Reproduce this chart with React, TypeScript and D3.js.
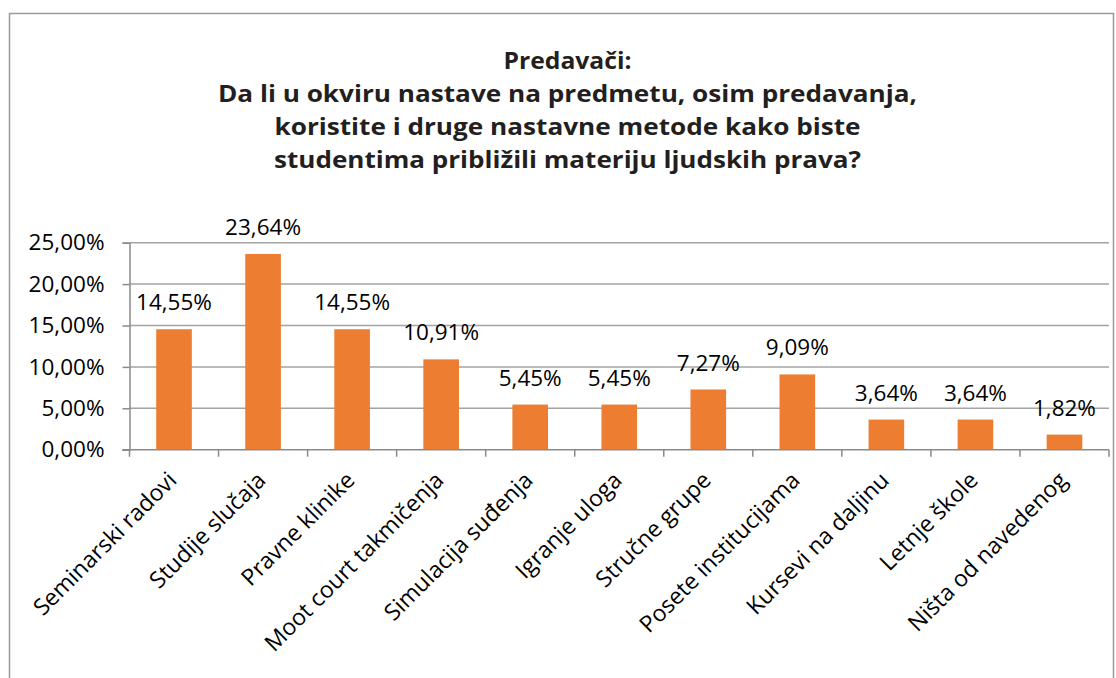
import React, { useEffect, useRef } from "react";
import * as d3 from "d3";

// Data
const categories = [
  "Seminarski radovi",
  "Studije slučaja",
  "Pravne klinike",
  "Moot court takmičenja",
  "Simulacija suđenja",
  "Igranje uloga",
  "Stručne grupe",
  "Posete institucijama",
  "Kursevi na daljinu",
  "Letnje škole",
  "Ništa od navedenog",
];
const values = [14.55, 23.64, 14.55, 10.91, 5.45, 5.45, 7.27, 9.09, 3.64, 3.64, 1.82];
const yTicks = [0, 5, 10, 15, 20, 25];
const titleLines = [
  "Predavači:",
  "Da li u okviru nastave na predmetu, osim predavanja,",
  "koristite i druge nastavne metode kako biste",
  "studentima približili materiju ljudskih prava?",
];
// approximate rendered widths of the title lines (condensed font in original)
const titleWidths = [128, 699, 586, 587];

const W = 1116;
const H = 678;
const ORANGE = "#ED7D31";
const FONT = "'Open Sans', sans-serif";
const LABEL_SIZE = "22.5px";

const locale = d3.formatLocale({
  decimal: ",",
  thousands: ".",
  grouping: [3],
  currency: ["", ""],
});
const fmt = locale.format(".2f");

const App = () => {
  const ref = useRef<SVGSVGElement>(null);

  useEffect(() => {
    const svg = d3.select(ref.current);
    svg.selectAll("*").remove();

    const plot = { left: 129.5, right: 1109, top: 242.7, bottom: 449.7 };

    // outer frame
    svg
      .append("rect")
      .attr("x", 9.5)
      .attr("y", 13.5)
      .attr("width", 1104)
      .attr("height", 700)
      .attr("fill", "#fff")
      .attr("stroke", "#9a9a9a")
      .attr("stroke-width", 1.5);

    // title, one text per line
    svg
      .append("g")
      .selectAll("text")
      .data(titleLines)
      .enter()
      .append("text")
      .attr("x", 567.5)
      .attr("y", (_, i) => 69 + i * 33)
      .attr("text-anchor", "middle")
      .attr("textLength", (_, i) => titleWidths[i])
      .attr("lengthAdjust", "spacingAndGlyphs")
      .style("font-family", FONT)
      .style("font-weight", 700)
      .style("font-size", "24px")
      .attr("fill", "#231f20")
      .text((d) => d);

    const x = d3
      .scaleBand()
      .domain(categories)
      .range([plot.left, plot.right])
      .paddingInner(0.6)
      .paddingOuter(0.3);
    const slot = d3.scaleBand().domain(categories).range([plot.left, plot.right]);

    const y = d3.scaleLinear().domain([0, 25]).range([plot.bottom, plot.top]);

    // gridlines
    svg
      .append("g")
      .selectAll("line")
      .data(yTicks.slice(1))
      .enter()
      .append("line")
      .attr("x1", plot.left)
      .attr("x2", plot.right)
      .attr("y1", (d) => y(d))
      .attr("y2", (d) => y(d))
      .attr("stroke", "#a3a3a3")
      .attr("stroke-width", 1.5);

    // y axis
    const yAxis = svg
      .append("g")
      .attr("transform", `translate(${plot.left},0)`)
      .call(
        d3
          .axisLeft(y)
          .tickValues(yTicks)
          .tickSize(7)
          .tickPadding(18)
          .tickFormat((d) => fmt(d as number) + "%")
      );
    yAxis.select(".domain").attr("stroke", "#8a8a8a").attr("stroke-width", 1.5);
    yAxis.selectAll(".tick line").attr("stroke", "#8a8a8a").attr("stroke-width", 1.5);
    yAxis
      .selectAll(".tick text")
      .style("font-family", FONT)
      .style("font-size", LABEL_SIZE)
      .attr("fill", "#000");

    // bars
    svg
      .append("g")
      .selectAll("rect")
      .data(values)
      .enter()
      .append("rect")
      .attr("x", (_, i) => x(categories[i])!)
      .attr("y", (d) => y(d))
      .attr("width", x.bandwidth())
      .attr("height", (d) => plot.bottom - y(d))
      .attr("fill", ORANGE);

    // data labels
    svg
      .append("g")
      .selectAll("text")
      .data(values)
      .enter()
      .append("text")
      .attr("x", (_, i) => x(categories[i])! + x.bandwidth() / 2)
      .attr("y", (d) => y(d) - 19)
      .attr("text-anchor", "middle")
      .style("font-family", FONT)
      .style("font-size", LABEL_SIZE)
      .attr("fill", "#000")
      .text((d) => fmt(d) + "%");

    // x axis line + ticks at slot boundaries
    const xAxis = svg.append("g");
    xAxis
      .append("line")
      .attr("x1", plot.left - 7)
      .attr("x2", plot.right)
      .attr("y1", plot.bottom)
      .attr("y2", plot.bottom)
      .attr("stroke", "#8a8a8a")
      .attr("stroke-width", 1.5);
    const bounds = categories.map((c) => slot(c)!).concat([plot.right]);
    xAxis
      .selectAll("line.tk")
      .data(bounds)
      .enter()
      .append("line")
      .attr("class", "tk")
      .attr("x1", (d) => d)
      .attr("x2", (d) => d)
      .attr("y1", plot.bottom)
      .attr("y2", plot.bottom + 7)
      .attr("stroke", "#8a8a8a")
      .attr("stroke-width", 1.5);

    // category labels, rotated
    xAxis
      .selectAll("text")
      .data(categories)
      .enter()
      .append("text")
      .attr(
        "transform",
        (d) => `translate(${slot(d)! + slot.bandwidth() / 2 + 4},${plot.bottom + 32}) rotate(-45)`
      )
      .attr("text-anchor", "end")
      .style("font-family", FONT)
      .style("font-size", "23px")
      .attr("fill", "#000")
      .text((d) => d);
  }, []);

  return (
    <svg
      ref={ref}
      width={W}
      height={H}
      style={{ position: "absolute", left: 0, top: 0, background: "#fff" }}
    />
  );
};

export default App;
